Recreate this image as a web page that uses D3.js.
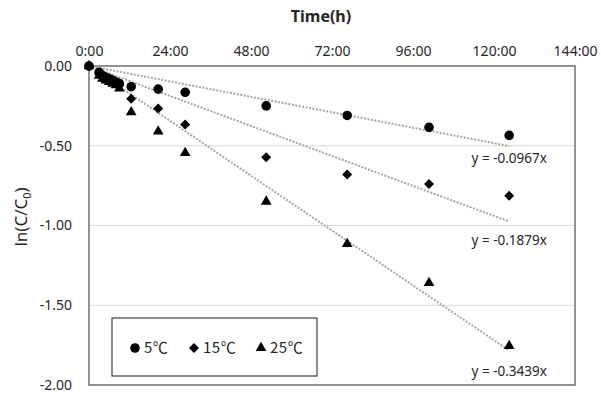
<!DOCTYPE html>
<html>
<head>
<meta charset="utf-8">
<script src="https://cdn.jsdelivr.net/npm/d3@7"></script>
<style>
  body { margin: 0; background: #fff; }
  text { font-family: "Noto Sans", "Noto Sans CJK KR", sans-serif; fill: #262626; }
</style>
</head>
<body>
<div id="chart"></div>
<script>
// sampling times (h)
var hours = [0, 3, 4, 5, 6, 7, 8, 9, 12.5, 20.5, 28.5, 52.5, 76.5, 100.75, 124.5];

// ln(C/C0) per temperature
var lnC5  = [0, -0.04, -0.06, -0.07, -0.08, -0.09, -0.10, -0.11, -0.13, -0.145, -0.165, -0.25, -0.31, -0.385, -0.435];
var lnC15 = [0, -0.05, -0.07, -0.08, -0.09, -0.10, -0.11, -0.12, -0.205, -0.267, -0.366, -0.572, -0.681, -0.74, -0.814];
var lnC25 = [0, -0.06, -0.08, -0.09, -0.10, -0.11, -0.12, -0.14, -0.29, -0.41, -0.545, -0.85, -1.115, -1.36, -1.755];

var seriesNames = ["5℃", "15℃", "25℃"];
var slopes = [-0.0967, -0.1879, -0.3439];   // per day
var eqLabels = ["y = -0.0967x", "y = -0.1879x", "y = -0.3439x"];

var xTicks = [0, 24, 48, 72, 96, 120, 144];
var yTicks = [0, -0.5, -1, -1.5, -2];

var W = 601, H = 396;
var margin = {top: 66, right: 26, bottom: 11, left: 89},
    width = W - margin.left - margin.right,
    height = H - margin.top - margin.bottom;

var svg = d3.select("#chart").append("svg")
    .attr("width", W)
    .attr("height", H);

var g = svg.append("g")
    .attr("transform", "translate(" + margin.left + "," + margin.top + ")");

var x = d3.scaleLinear().domain([0, 144]).range([0, width]);
var y = d3.scaleLinear().domain([-2, 0]).range([height, 0]);

// gridlines
g.selectAll(".grid").data(yTicks.slice(1, 4)).enter()
  .append("line")
    .attr("x1", 0).attr("x2", width)
    .attr("y1", function(d) { return y(d); })
    .attr("y2", function(d) { return y(d); })
    .attr("stroke", "#d9d9d9")
    .attr("stroke-width", 1);

// plot border
g.append("rect")
  .attr("x", 0).attr("y", 0)
  .attr("width", width).attr("height", height)
  .attr("fill", "none")
  .attr("stroke", "#595959")
  .attr("stroke-width", 1.3);

// top x axis
var xAxis = d3.axisTop(x)
  .tickValues(xTicks)
  .tickSize(0)
  .tickPadding(10)
  .tickFormat(function(d) { return d + ":00"; });

var gx = g.append("g").call(xAxis);
gx.select(".domain").remove();
gx.selectAll("text").style("font-size", "14px").attr("fill", "#1a1a1a");

var yAxis = d3.axisLeft(y)
  .tickValues(yTicks)
  .tickSize(0)
  .tickPadding(17)
  .tickFormat(d3.format(".2f"));

var gy = g.append("g").call(yAxis);
gy.select(".domain").remove();
gy.selectAll("text").style("font-size", "14px").attr("fill", "#1a1a1a")
  .text(function(d) { return d3.format(".2f")(d).replace("−", "-"); });

// axis titles
svg.append("text")
  .attr("x", 321).attr("y", 22)
  .attr("text-anchor", "middle")
  .style("font-size", "16px")
  .style("font-weight", "bold")
  .text("Time(h)");

var yl = svg.append("text")
  .attr("transform", "translate(27,217) rotate(-90)")
  .attr("text-anchor", "middle")
  .style("font-size", "17px");
yl.append("tspan").text("ln(C/C");
yl.append("tspan").attr("dy", 4).style("font-size", "11px").text("0");
yl.append("tspan").attr("dy", -4).text(")");

// trend lines
var tEnd = hours[hours.length - 1];
slopes.forEach(function(s) {
  g.append("line")
    .attr("x1", x(0)).attr("y1", y(0))
    .attr("x2", x(tEnd)).attr("y2", y(s * tEnd / 24))
    .attr("stroke", "#a6a6a6")
    .attr("stroke-width", 2)
    .attr("stroke-dasharray", "2,1.5");
});

// equation labels
var eqOffsets = [12, 19, 21];
slopes.forEach(function(s, i) {
  g.append("text")
    .attr("x", x(tEnd))
    .attr("y", y(s * tEnd / 24) + eqOffsets[i])
    .attr("dy", "0.35em")
    .attr("text-anchor", "middle")
    .style("font-size", "13.5px")
    .text(eqLabels[i]);
});

// markers: circle, diamond (square turned 45deg), triangle
var symbols = [d3.symbolCircle, d3.symbolSquare, d3.symbolTriangle];
var sizes = [72, 50, 50];
var rotations = [0, 45, 0];
var allSeries = [lnC5, lnC15, lnC25];

allSeries.forEach(function(vals, i) {
  var sym = d3.symbol().type(symbols[i]).size(sizes[i]);
  g.selectAll(".pt" + i).data(vals).enter()
    .append("path")
      .attr("class", "pt" + i)
      .attr("d", sym)
      .attr("transform", function(d, j) {
        return "translate(" + x(hours[j]) + "," + y(d) + ") rotate(" + rotations[i] + ")";
      })
      .attr("fill", "#000");
});

// legend
var lg = svg.append("g").attr("transform", "translate(112,318)");
lg.append("rect")
  .attr("width", 205).attr("height", 58)
  .attr("fill", "#fff")
  .attr("stroke", "#404040")
  .attr("stroke-width", 1.2);

var legX = [23, 82, 149];
seriesNames.forEach(function(n, i) {
  lg.append("path")
    .attr("d", d3.symbol().type(symbols[i]).size(sizes[i])())
    .attr("transform", "translate(" + legX[i] + ",30) rotate(" + rotations[i] + ")")
    .attr("fill", "#000");
  lg.append("text")
    .attr("x", legX[i] + 9).attr("y", 30)
    .attr("dy", "0.35em")
    .style("font-family", "'Noto Sans CJK KR', 'Noto Sans', sans-serif")
    .style("font-size", "15px")
    .attr("letter-spacing", "0.5px")
    .text(n);
});
</script>
</body>
</html>
